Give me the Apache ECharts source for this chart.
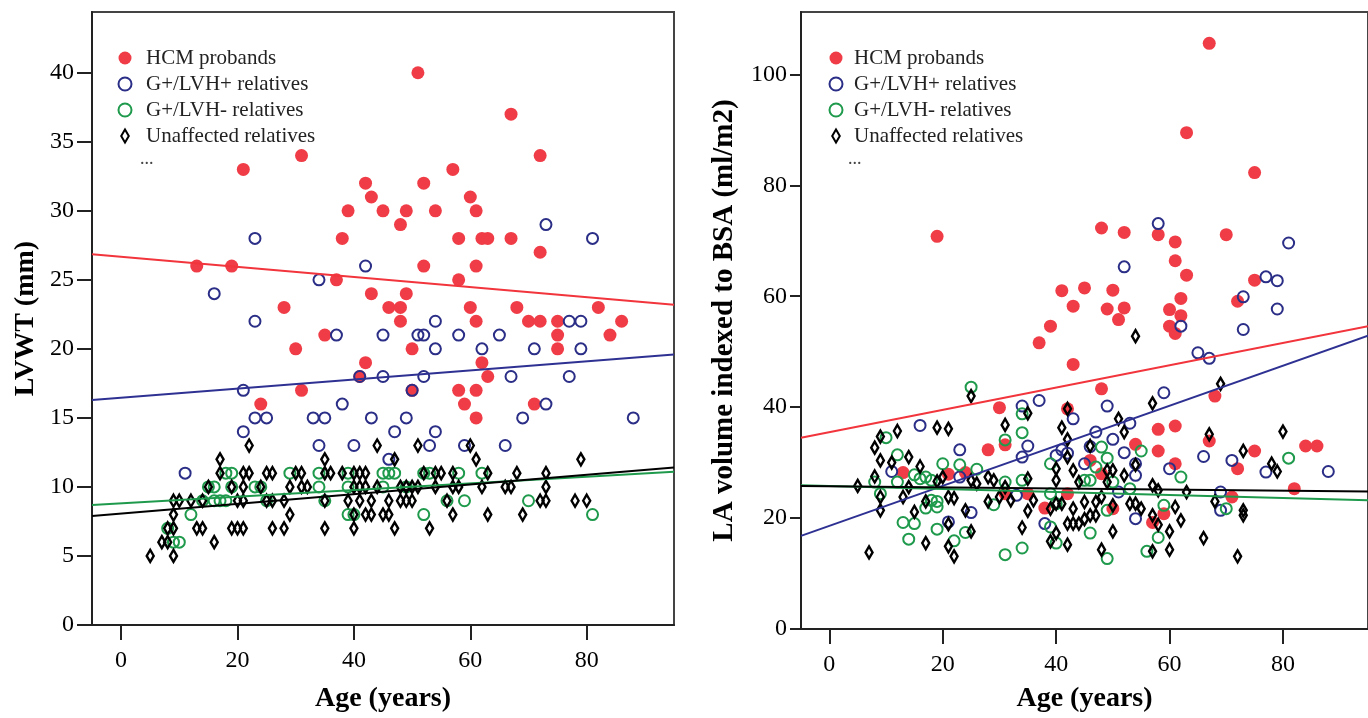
<!DOCTYPE html>
<html>
<head>
<meta charset="utf-8">
<style>
  html, body { margin: 0; padding: 0; background: #fff; }
  #chart { width: 1368px; height: 718px; }
</style>
<script src="https://cdn.jsdelivr.net/npm/echarts@6.0.0/dist/echarts.min.js"></script>
</head>
<body>
<div id="chart"></div>
<script>
  // ---- left panel: LVWT (mm) vs age ----
  let lvwtHcm = [[13,26],[19,26],[21,33],[24,16],[28,23],[30,20],[31,34],[31,17],[35,21],[37,25],[38,28],[39,30],[41,18],[42,32],[42,19],[43,31],[43,24],[45,30],[46,23],[48,29],[48,23],[48,22],[49,30],[49,24],[50,20],[50,17],[51,40],[52,32],[52,26],[54,30],[57,33],[58,28],[58,25],[58,17],[59,16],[60,31],[60,23],[61,30],[61,26],[61,22],[61,17],[61,15],[62,28],[62,19],[63,28],[63,18],[67,37],[67,28],[68,23],[70,22],[71,16],[72,34],[72,27],[72,22],[75,22],[75,21],[75,20],[82,23],[84,21],[86,22]];
  let lvwtPos = [[11,11],[16,24],[21,17],[21,14],[23,28],[23,22],[23,15],[25,15],[33,15],[34,25],[34,13],[35,15],[37,21],[38,16],[40,13],[41,18],[42,26],[43,15],[45,21],[45,18],[46,12],[47,14],[49,15],[50,17],[51,21],[52,21],[52,18],[53,13],[54,22],[54,20],[54,14],[58,21],[59,13],[62,20],[65,21],[66,13],[67,18],[69,15],[71,20],[73,29],[73,16],[77,22],[77,18],[79,22],[79,20],[81,28],[88,15]];
  let lvwtNeg = [[8,7],[9,6],[10,6],[12,8],[14,9],[15,10],[16,10],[16,9],[17,9],[18,11],[18,9],[19,11],[19,10],[23,10],[24,10],[25,9],[29,11],[34,11],[34,10],[35,9],[39,11],[39,10],[39,8],[40,8],[45,11],[46,11],[47,11],[45,10],[49,10],[52,11],[53,11],[52,8],[56,9],[58,11],[59,9],[62,11],[70,9],[81,8]];
  let lvwtUnaff = [[5,5],[7,6],[8,6],[8,7],[9,7],[9,8],[9,9],[9,5],[10,9],[12,9],[13,7],[14,7],[14,9],[15,10],[16,6],[17,12],[17,11],[19,10],[19,7],[20,7],[21,7],[20,9],[21,9],[21,11],[22,11],[22,13],[21,10],[24,10],[25,11],[26,11],[25,9],[26,9],[26,7],[28,7],[28,9],[29,8],[29,10],[30,11],[31,11],[31,10],[32,10],[35,12],[35,11],[36,11],[35,9],[35,7],[38,11],[39,9],[40,11],[41,11],[42,11],[40,10],[41,10],[42,10],[41,9],[43,9],[40,8],[42,8],[43,8],[40,7],[44,13],[44,10],[45,8],[46,8],[46,9],[47,12],[47,7],[48,10],[49,10],[50,10],[51,10],[48,9],[49,9],[50,9],[51,13],[52,11],[54,11],[55,11],[53,7],[54,10],[56,9],[57,11],[57,10],[58,10],[57,8],[60,13],[61,12],[63,11],[62,10],[63,8],[66,10],[67,10],[68,11],[69,8],[72,9],[73,9],[73,10],[73,11],[78,9],[80,9],[79,12]];
  // fitted lines, value at age -5 and age 95
  let lvwtFitHcm = [[-5,26.85],[95,23.2]];
  let lvwtFitPos = [[-5,16.3],[95,19.6]];
  let lvwtFitNeg = [[-5,8.7],[95,11.1]];
  let lvwtFitUnaff = [[-5,7.9],[95,11.4]];
  let lvwtTicks = [0,5,10,15,20,25,30,35,40];

  // ---- right panel: LA volume indexed to BSA vs age ----
  let laHcm = [[13,28.2],[19,70.8],[21,27.9],[24,28.2],[28,32.3],[30,39.9],[31,33.2],[31,24.4],[35,24.4],[37,51.6],[38,21.8],[39,54.6],[41,61],[42,39.7],[42,24.4],[43,58.2],[43,47.7],[45,61.5],[46,30.4],[48,72.3],[48,43.3],[48,28],[49,57.7],[50,61.1],[50,21.7],[51,55.8],[52,71.5],[52,57.9],[54,33.3],[57,19.2],[58,71.1],[58,36],[58,32.1],[59,20.8],[60,57.6],[60,54.6],[61,69.8],[61,66.4],[61,53.3],[61,36.6],[61,29.8],[62,59.6],[62,56.5],[63,89.5],[63,63.8],[67,105.6],[67,33.9],[68,42],[70,71.1],[71,23.8],[72,59.1],[72,28.9],[75,82.3],[75,62.9],[75,32.1],[82,25.3],[84,33],[86,33]];
  let laPos = [[11,28.4],[16,36.7],[21,19.3],[23,32.3],[23,27.4],[25,21],[33,24.1],[34,40.2],[34,31],[35,33],[37,41.2],[38,19],[40,31.3],[41,32.3],[42,31.7],[43,37.9],[45,29.8],[46,32.9],[47,35.5],[49,40.2],[50,34.2],[51,24.7],[52,65.3],[52,31.8],[53,37.1],[54,29.8],[54,27.7],[54,19.9],[58,73.1],[59,42.6],[60,28.9],[62,54.6],[65,49.8],[66,31.1],[67,48.8],[69,24.7],[69,21.4],[71,30.4],[73,59.9],[73,54],[77,63.5],[77,28.3],[79,62.8],[79,57.7],[81,69.6],[88,28.4]];
  let laNeg = [[8,26.5],[9,24.4],[10,34.5],[12,31.4],[12,26.5],[13,19.2],[14,16.2],[15,27.8],[15,19],[16,27.1],[17,27.4],[17,21.8],[18,26.8],[18,23.2],[19,23],[19,22],[19,18],[20,29.8],[22,15.9],[23,29.6],[24,17.4],[25,43.6],[26,28.8],[29,22.4],[31,34.1],[31,26.5],[31,13.4],[34,38.8],[34,35.4],[34,26.8],[34,14.6],[39,29.8],[39,24.4],[39,18.4],[40,22.6],[40,15.5],[45,26.8],[46,26.8],[46,17.3],[47,29.2],[48,32.8],[49,30.8],[49,21.4],[49,12.7],[50,26.5],[53,25.3],[55,32.1],[56,14],[58,16.5],[59,22.3],[62,27.4],[70,21.7],[81,30.8]];
  let laUnaff = [[5,25.8],[7,13.8],[8,32.7],[8,27.5],[9,34.7],[9,30.4],[9,23.8],[9,21.4],[11,30],[12,35.7],[13,23.8],[14,31],[14,25.6],[15,21.1],[16,29.3],[17,23],[17,15.5],[19,36.3],[19,26.6],[20,27.4],[21,36.1],[21,23.8],[21,18.9],[21,14.9],[22,23.6],[22,13.1],[24,21.4],[25,42],[25,26.8],[25,17.6],[26,26.2],[28,27.4],[28,23],[29,26.8],[30,23.8],[31,36.8],[31,25.6],[32,23.2],[34,18.3],[35,38.9],[35,27.1],[35,21.3],[36,23.2],[39,21.7],[39,15.8],[40,28.9],[40,26.8],[40,22.6],[40,17.3],[41,36.3],[41,22.6],[42,39.7],[42,34.2],[42,31],[42,19],[42,15.2],[43,28.6],[43,21.7],[43,19],[44,26.5],[44,19],[45,22.9],[45,19.8],[46,33],[46,20.5],[47,22.9],[47,20.5],[48,23.8],[48,14.3],[49,28.6],[49,26.5],[50,28.6],[50,22.3],[50,17.6],[51,37.9],[52,35.5],[52,27.7],[53,22.6],[54,52.8],[54,29.6],[54,22.6],[55,21.7],[57,40.7],[57,25.9],[57,20.5],[57,14],[58,25],[58,18.8],[60,17.6],[60,14.3],[61,22],[62,19.6],[63,24.7],[66,16.4],[67,35.1],[68,23],[69,44.2],[72,13.1],[73,32.1],[73,21.4],[73,20.5],[78,29.8],[79,28.4],[80,35.6]];
  let laFitHcm = [[-5,34.5],[95,54.6]];
  let laFitPos = [[-5,16.8],[95,52.9]];
  let laFitNeg = [[-5,25.9],[95,23.2]];
  let laFitUnaff = [[-5,25.8],[95,24.8]];
  let laTicks = [0,20,40,60,80,100];

  let ageTicks = [0,20,40,60,80];
  let groupNames = ['HCM probands', 'G+/LVH+ relatives', 'G+/LVH- relatives', 'Unaffected relatives'];

  let red = '#f03c46', navy = '#2b2e86', green = '#1f9a4c', black = '#000';
  let serif = 'Liberation Serif';
  let diamond = 'path://M3.5,0L7,6L3.5,12L0,6Z';

  function xAxisFor(gridIndex, nameGap) {
    return {
      type: 'value', gridIndex: gridIndex, min: -5, max: 95,
      name: 'Age (years)', nameLocation: 'middle', nameGap: nameGap,
      nameTextStyle: { fontFamily: serif, fontWeight: 'bold', fontSize: 28, color: '#000' },
      axisLine: { onZero: false, lineStyle: { color: '#222', width: 2 } },
      axisTick: { show: true, length: 15, lineStyle: { color: '#222', width: 2 }, customValues: ageTicks },
      axisLabel: { fontFamily: serif, fontSize: 24, color: '#000', margin: 24, customValues: ageTicks },
      splitLine: { show: false }
    };
  }

  function yAxisFor(gridIndex, max, ticks, name, nameGap, tickLen, nameSize) {
    return {
      type: 'value', gridIndex: gridIndex, min: 0, max: max,
      name: name, nameLocation: 'middle', nameGap: nameGap,
      nameTextStyle: { fontFamily: serif, fontWeight: 'bold', fontSize: nameSize, color: '#000' },
      axisLine: { show: true, onZero: false, lineStyle: { color: '#222', width: 2 } },
      axisTick: { show: true, length: tickLen, lineStyle: { color: '#222', width: 2 }, customValues: ticks },
      axisLabel: { fontFamily: serif, fontSize: 24, color: '#000', margin: tickLen + 3, customValues: ticks },
      splitLine: { show: false }
    };
  }

  function scatterSet(idx, hcm, pos, neg, unaff) {
    return [
      { name: groupNames[0], type: 'scatter', xAxisIndex: idx, yAxisIndex: idx, data: hcm,
        symbol: 'circle', symbolSize: 13, itemStyle: { color: red, opacity: 1 }, z: 3 },
      { name: groupNames[1], type: 'scatter', xAxisIndex: idx, yAxisIndex: idx, data: pos,
        symbol: 'circle', symbolSize: 11, itemStyle: { color: 'rgba(0,0,0,0)', borderColor: navy, borderWidth: 2, opacity: 1 }, z: 3 },
      { name: groupNames[2], type: 'scatter', xAxisIndex: idx, yAxisIndex: idx, data: neg,
        symbol: 'circle', symbolSize: 11, itemStyle: { color: 'rgba(0,0,0,0)', borderColor: green, borderWidth: 2, opacity: 1 }, z: 3 },
      { name: groupNames[3], type: 'scatter', xAxisIndex: idx, yAxisIndex: idx, data: unaff,
        symbol: diamond, symbolKeepAspect: true, symbolSize: 12, itemStyle: { color: 'rgba(255,255,255,0)', borderColor: black, borderWidth: 2.4, opacity: 1 }, z: 3 }
    ];
  }

  function fitLine(idx, data, color, label) {
    return { name: label, type: 'line', xAxisIndex: idx, yAxisIndex: idx, data: data,
      symbol: 'none', silent: true, z: 4, lineStyle: { color: color, width: 2 } };
  }

  function legendFor(left, padLeft) {
    return {
      orient: 'vertical', left: left, top: 42, itemWidth: 13, itemHeight: 13, itemGap: 4,
      selectedMode: false, data: groupNames,
      textStyle: { fontFamily: serif, fontSize: 21, color: '#222', lineHeight: 22, padding: [0, 0, 0, padLeft] }
    };
  }

  let myChart = echarts.init(document.getElementById('chart'));

  let option = {
    animation: false,
    backgroundColor: '#fff',
    grid: [
      { left: 92, top: 12, width: 582, height: 617, show: true, borderColor: '#444', borderWidth: 2, backgroundColor: 'transparent' },
      { left: 801, top: 12, width: 574, height: 623, show: true, borderColor: '#444', borderWidth: 2, backgroundColor: 'transparent' }
    ],
    legend: [legendFor(112.5, 9.5), legendFor(823.5, 6.5)],
    graphic: [
      { type: 'text', left: 140, top: 150, style: { text: '...', fontFamily: serif, fontSize: 18, fill: '#444' } },
      { type: 'text', left: 848, top: 150, style: { text: '...', fontFamily: serif, fontSize: 18, fill: '#444' } }
    ],
    xAxis: [xAxisFor(0, 60), xAxisFor(1, 56)],
    yAxis: [
      yAxisFor(0, 44.4, lvwtTicks, 'LVWT (mm)', 52, 15, 28),
      yAxisFor(1, 111.25, laTicks, 'LA volume indexed to BSA (ml/m2)', 62, 11, 29)
    ],
    series: [].concat(
      scatterSet(0, lvwtHcm, lvwtPos, lvwtNeg, lvwtUnaff),
      [
        fitLine(0, lvwtFitHcm, '#f2343c', 'fit HCM'),
        fitLine(0, lvwtFitPos, '#2e3192', 'fit LVH+'),
        fitLine(0, lvwtFitNeg, '#1f9a4c', 'fit LVH-'),
        fitLine(0, lvwtFitUnaff, '#000', 'fit unaffected')
      ],
      scatterSet(1, laHcm, laPos, laNeg, laUnaff),
      [
        fitLine(1, laFitHcm, '#f2343c', 'fit HCM'),
        fitLine(1, laFitPos, '#2e3192', 'fit LVH+'),
        fitLine(1, laFitNeg, '#1f9a4c', 'fit LVH-'),
        fitLine(1, laFitUnaff, '#000', 'fit unaffected')
      ]
    )
  };

  myChart.setOption(option);
</script>
</body>
</html>
